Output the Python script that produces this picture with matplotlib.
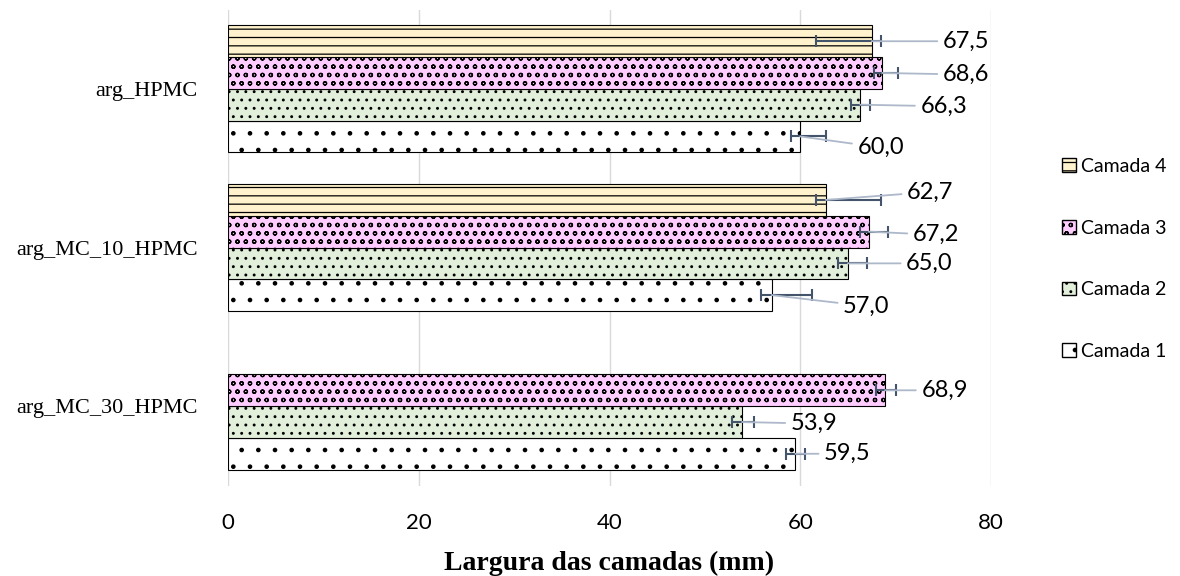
import numpy as np
import matplotlib.pyplot as plt
from matplotlib.patches import Patch

# 数据
categorias = ['arg_HPMC', 'arg_MC_10_HPMC', 'arg_MC_30_HPMC']
camadas = ['Camada 1', 'Camada 2', 'Camada 3', 'Camada 4']
largura = {
    'Camada 1': [60.0, 57.0, 59.5],
    'Camada 2': [66.3, 65.0, 53.9],
    'Camada 3': [68.6, 67.2, 68.9],
    'Camada 4': [67.5, 62.7, np.nan],
}
erro_menos = {
    'Camada 1': [1.0, 1.1, 1.0],
    'Camada 2': [1.0, 1.0, 1.1],
    'Camada 3': [0.9, 0.9, 1.0],
    'Camada 4': [5.8, 1.0, np.nan],
}
erro_mais = {
    'Camada 1': [2.7, 4.2, 1.0],
    'Camada 2': [1.0, 2.0, 1.3],
    'Camada 3': [1.6, 2.0, 1.1],
    'Camada 4': [1.0, 5.8, np.nan],
}

# 样式
cores = {'Camada 1': '#FFFFFF', 'Camada 2': '#E2EFDA', 'Camada 3': '#FFCCFF', 'Camada 4': '#FFF2CC'}
hatches = {'Camada 1': '.', 'Camada 2': '..', 'Camada 3': 'oo', 'Camada 4': '--'}
# 数据标签位置 (x, y偏移)
rotulo_pos = {
    'Camada 1': [(66.0, -0.07), (64.5, -0.07), (62.5, 0.0)],
    'Camada 2': [(72.6, -0.01), (71.1, 0.0), (59.0, -0.01)],
    'Camada 3': [(74.95, -0.01), (71.8, -0.02), (72.7, 0.0)],
    'Camada 4': [(74.95, 0.0), (71.2, 0.05), None],
}

plt.rcParams['hatch.linewidth'] = 0.9
fig = plt.figure(figsize=(11.8, 5.76), dpi=100)
ax = fig.add_axes([228 / 1180, 1 - 485.5 / 576, 763 / 1180, 476 / 576])

y = np.arange(len(categorias))[::-1]
w = 0.2
for i, c in enumerate(camadas):
    yy = y + (i - 1.5) * w
    ax.barh(yy, largura[c], height=w, color=cores[c], edgecolor='black',
            linewidth=0.8, hatch=hatches[c], zorder=2)
    ax.errorbar(largura[c], yy, xerr=[erro_menos[c], erro_mais[c]], fmt='none',
                ecolor='#44546A', elinewidth=1.5, capsize=4, capthick=1.5, zorder=3)
    for j, v in enumerate(largura[c]):
        if np.isnan(v):
            continue
        lx, dy = rotulo_pos[c][j]
        ax.annotate(f'{v:.1f}'.replace('.', ','), xy=(v, yy[j]), xytext=(lx, yy[j] + dy),
                    textcoords='data', ha='left', va='center', fontsize=17, family='Lato',
                    arrowprops=dict(arrowstyle='-', color='#ADB9CA', lw=1.3,
                                    shrinkA=2, shrinkB=0), zorder=4)

ax.set_xlim(0, 80)
ax.set_ylim(-0.5, 2.5)
ax.set_xticks([0, 20, 40, 60, 80])
ax.set_yticks(y)
ax.set_yticklabels(categorias, family='Liberation Serif', fontsize=16)
for t in ax.get_xticklabels():
    t.set_family('Lato')
    t.set_fontsize(16)
ax.tick_params(length=0, pad=22)
ax.tick_params(axis='x', pad=20)
ax.grid(axis='x', color='#D9D9D9', lw=1, zorder=0)
for s in ax.spines.values():
    s.set_visible(False)
ax.set_xlabel('Largura das camadas (mm)', family='Liberation Serif', fontsize=20,
              fontweight='bold', labelpad=13)

# 图例
handles = [Patch(facecolor=cores[c], edgecolor='black', hatch=hatches[c], label=c)
           for c in camadas[::-1]]
fig.legend(handles=handles, loc='center left', bbox_to_anchor=(1062 / 1180, 1 - 259 / 576),
           frameon=False, prop={'family': 'Lato', 'size': 14}, handlelength=0.7,
           handleheight=0.7, handletextpad=0.3, labelspacing=2.3, borderpad=0,
           borderaxespad=0)

plt.savefig('out.png', dpi=100)
